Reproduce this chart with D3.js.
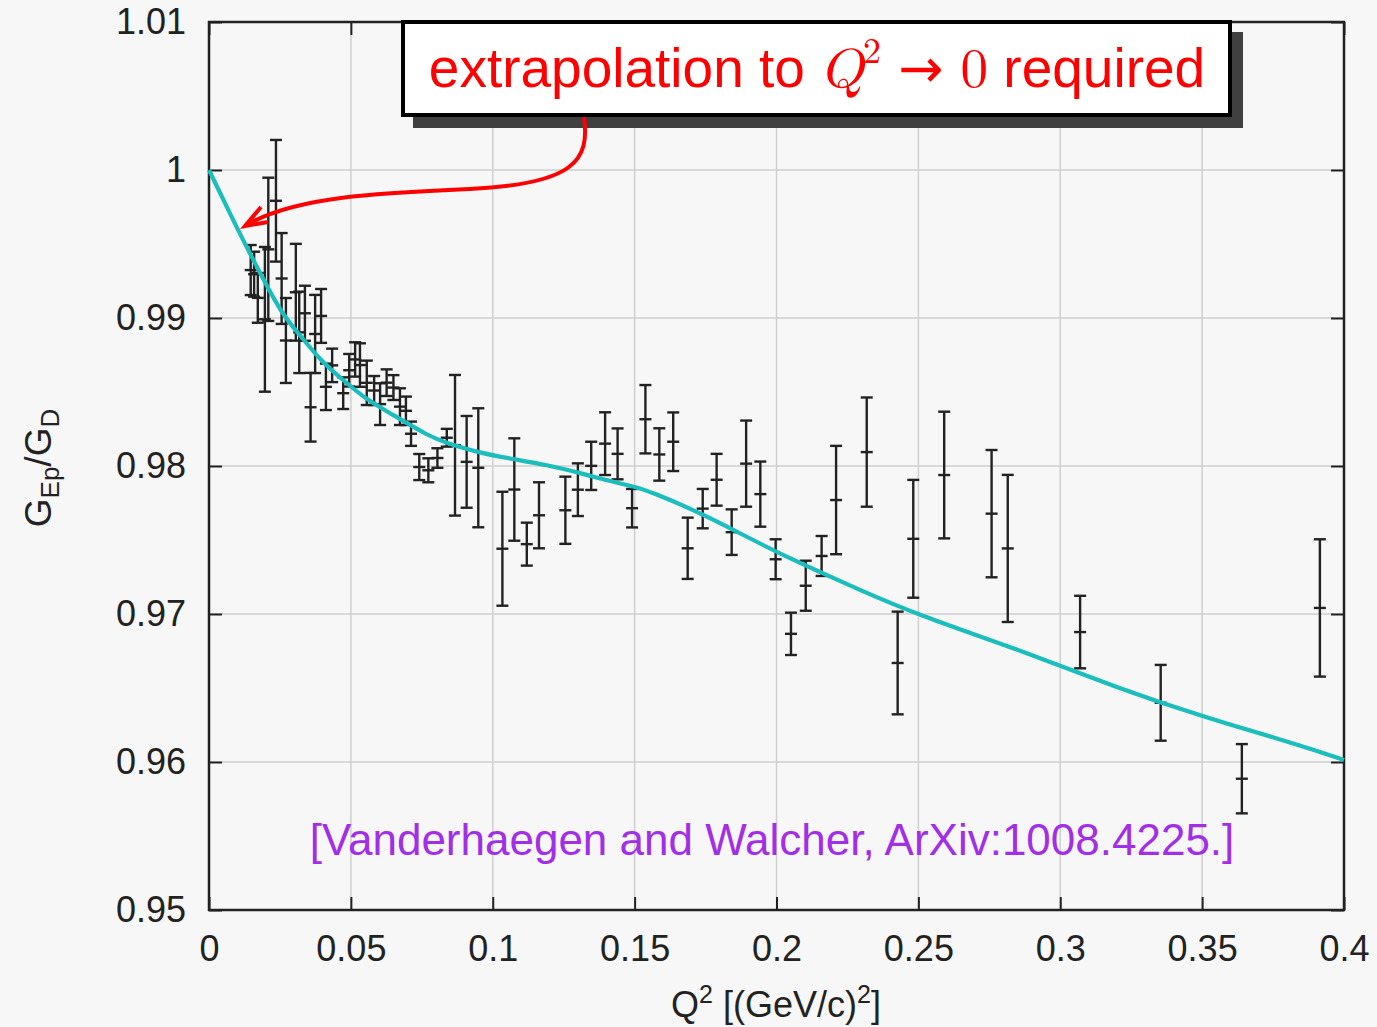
<!DOCTYPE html>
<html>
<head>
<meta charset="utf-8">
<script src="https://cdn.jsdelivr.net/npm/d3@7"></script>
<style>
  body { margin: 0; background: #f7f7f7; }
  text { font-family: "Liberation Sans", Arial, Helvetica, sans-serif; }
</style>
</head>
<body>
<div id="chart"></div>
<script>
// data points: Q^2, G_Ep/G_D and error
var q2 = [0.0147, 0.0159, 0.0172, 0.0197, 0.0209, 0.0236, 0.0256, 0.0271, 0.0306, 0.0318,
  0.0338, 0.0358, 0.0374, 0.0395, 0.0412, 0.0434, 0.0473, 0.0494, 0.0515, 0.0532,
  0.0556, 0.0582, 0.0603, 0.0626, 0.0650, 0.0673, 0.0694, 0.0712, 0.0741, 0.0773,
  0.0805, 0.0838, 0.0867, 0.0908, 0.0949, 0.1034, 0.1076, 0.1120, 0.1163, 0.1256,
  0.1300, 0.1347, 0.1396, 0.1440, 0.1491, 0.1538, 0.1587, 0.1636, 0.1687, 0.1740,
  0.1789, 0.1842, 0.1893, 0.1943, 0.1997, 0.2051, 0.2103, 0.2159, 0.2210, 0.2318,
  0.2427, 0.2482, 0.2591, 0.2758, 0.2815, 0.3070, 0.3354, 0.3640, 0.3915];

var ratio = [0.99324, 0.99296, 0.99136, 0.98991, 0.99464, 0.99792, 0.99267, 0.98848, 0.99174, 0.98903,
  0.99032, 0.98397, 0.98892, 0.99014, 0.98535, 0.98680, 0.98492, 0.98647, 0.98720, 0.98682,
  0.98562, 0.98510, 0.98418, 0.98563, 0.98530, 0.98401, 0.98373, 0.98218, 0.97993, 0.97971,
  0.98054, 0.98191, 0.98140, 0.98028, 0.97988, 0.97441, 0.97841, 0.97472, 0.97667, 0.97701,
  0.97840, 0.98001, 0.98151, 0.98082, 0.97715, 0.98316, 0.98078, 0.98164, 0.97444, 0.97712,
  0.97907, 0.97553, 0.98016, 0.97810, 0.97370, 0.96866, 0.97191, 0.97392, 0.97770, 0.98094,
  0.96669, 0.97508, 0.97939, 0.97678, 0.97443, 0.96878, 0.96400, 0.95887, 0.97041];

var err = [0.00169, 0.00152, 0.00168, 0.00489, 0.00484, 0.00411, 0.00307, 0.00287, 0.00327, 0.00275,
  0.00186, 0.00232, 0.00264, 0.00182, 0.00157, 0.00113, 0.00107, 0.00110, 0.00116, 0.00147,
  0.00150, 0.00098, 0.00141, 0.00090, 0.00084, 0.00124, 0.00096, 0.00082, 0.00088, 0.00081,
  0.00066, 0.00060, 0.00475, 0.00310, 0.00402, 0.00385, 0.00346, 0.00145, 0.00223, 0.00227,
  0.00178, 0.00163, 0.00212, 0.00172, 0.00130, 0.00231, 0.00177, 0.00198, 0.00207, 0.00133,
  0.00175, 0.00154, 0.00291, 0.00220, 0.00135, 0.00143, 0.00169, 0.00135, 0.00366, 0.00369,
  0.00347, 0.00398, 0.00428, 0.00430, 0.00497, 0.00245, 0.00256, 0.00234, 0.00464];

// fit curve
var fitQ2 = [0, 0.0046, 0.0092, 0.0180, 0.0261, 0.0321, 0.0391, 0.0472, 0.0557, 0.0638,
  0.0779, 0.0839, 0.0955, 0.1071, 0.1191, 0.1308, 0.1424, 0.1508, 0.1565, 0.1685,
  0.1801, 0.1917, 0.2037, 0.2153, 0.2270, 0.2506, 0.2858, 0.3211, 0.3493, 0.3845, 0.4];
var fitRatio = [1.0, 0.99818, 0.99633, 0.99302, 0.99014, 0.98885, 0.98716, 0.98581, 0.98446, 0.98358,
  0.98196, 0.98155, 0.98088, 0.98047, 0.98007, 0.97953, 0.97892, 0.97858, 0.97818, 0.97723,
  0.97615, 0.97500, 0.97385, 0.97284, 0.97182, 0.96987, 0.96757, 0.96493, 0.96311, 0.96115, 0.96014];

var xTicks = [0, 0.05, 0.1, 0.15, 0.2, 0.25, 0.3, 0.35, 0.4];
var xTickLabels = ["0", "0.05", "0.1", "0.15", "0.2", "0.25", "0.3", "0.35", "0.4"];
var yTicks = [0.95, 0.96, 0.97, 0.98, 0.99, 1.0, 1.01];
var yTickLabels = ["0.95", "0.96", "0.97", "0.98", "0.99", "1", "1.01"];

// set variables
var width = 1377,
    height = 1027,
    plotLeft = 209, plotRight = 1344, plotTop = 22, plotBottom = 910;

var svg = d3.select("#chart").append("svg")
  .attr("width", width)
  .attr("height", height);

svg.append("rect")
  .attr("width", width).attr("height", height)
  .attr("fill", "#f7f7f7");

var x = d3.scaleLinear().domain([0, 0.4]).range([plotLeft, plotRight]);
var y = d3.scaleLinear().domain([0.95, 1.01]).range([plotBottom, plotTop]);

// grid
var grid = svg.append("g").attr("stroke", "#cfcfcf").attr("stroke-width", 1.5);
grid.selectAll(".gx").data(xTicks.slice(1, -1)).enter().append("line")
  .attr("x1", function(d) { return x(d); }).attr("x2", function(d) { return x(d); })
  .attr("y1", plotTop).attr("y2", plotBottom);
grid.selectAll(".gy").data(yTicks.slice(1, -1)).enter().append("line")
  .attr("x1", plotLeft).attr("x2", plotRight)
  .attr("y1", function(d) { return y(d); }).attr("y2", function(d) { return y(d); });

// axes, ticks pointing inwards on all four sides
function styleAxis(g) {
  g.select(".domain").remove();
  g.selectAll(".tick line").attr("stroke", "#222").attr("stroke-width", 2);
  g.selectAll(".tick text").attr("fill", "#222").style("font-size", "36px");
}

svg.append("g")
  .attr("transform", "translate(0," + plotBottom + ")")
  .call(d3.axisBottom(x).tickValues(xTicks).tickSize(-13).tickPadding(25)
    .tickFormat(function(d, i) { return xTickLabels[i]; }))
  .call(styleAxis);

svg.append("g")
  .attr("transform", "translate(0," + plotTop + ")")
  .call(d3.axisTop(x).tickValues(xTicks).tickSize(-13).tickFormat(""))
  .call(styleAxis);

svg.append("g")
  .attr("transform", "translate(" + plotLeft + ",0)")
  .call(d3.axisLeft(y).tickValues(yTicks).tickSize(-13).tickPadding(23)
    .tickFormat(function(d, i) { return yTickLabels[i]; }))
  .call(styleAxis);

svg.append("g")
  .attr("transform", "translate(" + plotRight + ",0)")
  .call(d3.axisRight(y).tickValues(yTicks).tickSize(-13).tickFormat(""))
  .call(styleAxis);

svg.append("rect")
  .attr("x", plotLeft).attr("y", plotTop)
  .attr("width", plotRight - plotLeft).attr("height", plotBottom - plotTop)
  .attr("fill", "none").attr("stroke", "#222").attr("stroke-width", 2.5);

// error bars
var points = q2.map(function(d, i) { return {q: d, r: ratio[i], e: err[i]}; });
var cap = 6;

var bars = svg.append("g")
  .attr("stroke", "#222").attr("stroke-width", 2.4)
  .selectAll("g").data(points).enter().append("g");

bars.append("line")
  .attr("x1", function(d) { return x(d.q); }).attr("x2", function(d) { return x(d.q); })
  .attr("y1", function(d) { return y(d.r + d.e); }).attr("y2", function(d) { return y(d.r - d.e); });
bars.append("line")
  .attr("x1", function(d) { return x(d.q) - cap; }).attr("x2", function(d) { return x(d.q) + cap; })
  .attr("y1", function(d) { return y(d.r + d.e); }).attr("y2", function(d) { return y(d.r + d.e); });
bars.append("line")
  .attr("x1", function(d) { return x(d.q) - cap; }).attr("x2", function(d) { return x(d.q) + cap; })
  .attr("y1", function(d) { return y(d.r - d.e); }).attr("y2", function(d) { return y(d.r - d.e); });
bars.append("line")
  .attr("x1", function(d) { return x(d.q) - cap; }).attr("x2", function(d) { return x(d.q) + cap; })
  .attr("y1", function(d) { return y(d.r); }).attr("y2", function(d) { return y(d.r); });

// fit curve
var line = d3.line()
  .x(function(d, i) { return x(fitQ2[i]); })
  .y(function(d) { return y(d); })
  .curve(d3.curveBasis);

svg.append("path")
  .attr("d", line(fitRatio))
  .attr("fill", "none")
  .attr("stroke", "#1bbdbd")
  .attr("stroke-width", 4.2);

// citation
svg.append("text")
  .attr("x", 772).attr("y", 855)
  .attr("text-anchor", "middle")
  .attr("fill", "#a22ee8")
  .style("font-size", "44px")
  .text("[Vanderhaegen and Walcher, ArXiv:1008.4225.]");

// axis titles
var xt = svg.append("text")
  .attr("x", 776).attr("y", 1017)
  .attr("text-anchor", "middle")
  .attr("fill", "#222")
  .style("font-size", "36px");
xt.append("tspan").text("Q");
xt.append("tspan").attr("dy", -14).style("font-size", "25px").text("2");
xt.append("tspan").attr("dy", 14).text(" [(GeV/c)");
xt.append("tspan").attr("dy", -14).style("font-size", "25px").text("2");
xt.append("tspan").attr("dy", 14).text("]");

var yt = svg.append("text")
  .attr("transform", "translate(51,468) rotate(-90)")
  .attr("text-anchor", "middle")
  .attr("fill", "#222")
  .style("font-size", "37px");
yt.append("tspan").text("G");
yt.append("tspan").attr("dy", 8).style("font-size", "26px").text("Ep");
yt.append("tspan").attr("dy", -8).text("/G");
yt.append("tspan").attr("dy", 8).style("font-size", "26px").text("D");

// annotation box with shadow
svg.append("rect")
  .attr("x", 413).attr("y", 32).attr("width", 830).attr("height", 96)
  .attr("fill", "#404040");
svg.append("rect")
  .attr("x", 403).attr("y", 22).attr("width", 827).attr("height", 93)
  .attr("fill", "#fff").attr("stroke", "#000").attr("stroke-width", 4);

var serif = "'Latin Modern Math', 'Liberation Serif', 'DejaVu Serif', serif";
var note = svg.append("text")
  .attr("x", 817).attr("y", 87)
  .attr("text-anchor", "middle")
  .attr("fill", "#ff0000")
  .style("font-size", "55px");
note.append("tspan").text("extrapolation to ");
note.append("tspan").style("font-family", serif)
  .style("font-style", "italic").text("Q");
note.append("tspan").attr("dy", -24).style("font-size", "36px")
  .style("font-family", serif).text("2");
note.append("tspan").attr("dy", 24).style("font-family", "'DejaVu Sans', sans-serif")
  .style("font-size", "54px").text(" \u2192 ");
note.append("tspan").style("font-family", serif).text("0");
note.append("tspan").text(" required");

// red arrow
svg.append("path")
  .attr("d", "M584,117 C590,160 575,184 470,189 C380,193 300,196 250,223")
  .attr("fill", "none").attr("stroke", "#ff0000").attr("stroke-width", 4);
svg.append("path")
  .attr("d", "M261,207 L245,226 L268,222")
  .attr("fill", "none").attr("stroke", "#ff0000").attr("stroke-width", 4)
  .attr("stroke-linejoin", "miter");
</script>
</body>
</html>
